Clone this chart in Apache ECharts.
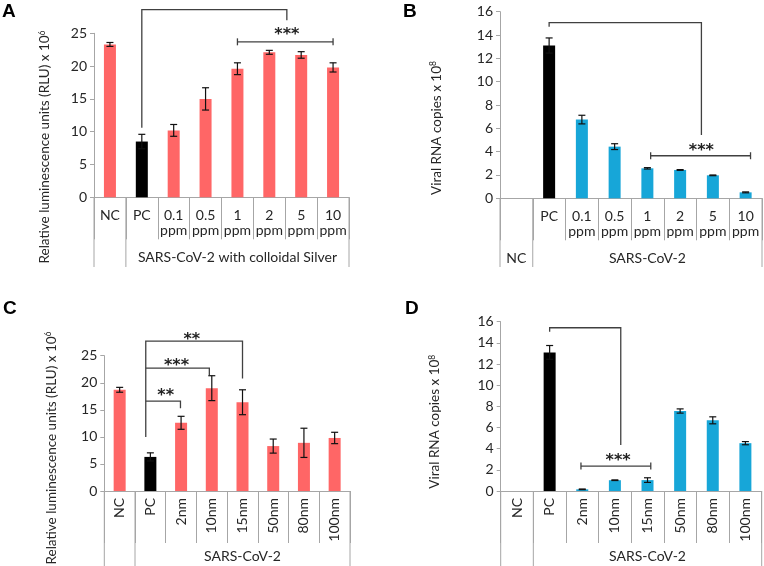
<!DOCTYPE html>
<html>
<head>
<meta charset="utf-8">
<script src="https://cdn.jsdelivr.net/npm/echarts@6/dist/echarts.min.js"></script>
<style>html,body{margin:0;padding:0;background:#fff}#chart{width:764px;height:566px}</style>
</head>
<body>
<div id="chart"></div>
<script>
// categories
const catsPpm = ['NC', 'PC', '0.1 ppm', '0.5 ppm', '1 ppm', '2 ppm', '5 ppm', '10 ppm'];
const catsNm = ['NC', 'PC', '2nm', '10nm', '15nm', '50nm', '80nm', '100nm'];

// A: RLU x 10^6, colloidal silver
const rluA = [23.3, 8.5, 10.2, 15.0, 19.6, 22.1, 21.7, 19.8];
const rluAErr = [0.3, 1.1, 0.9, 1.7, 0.9, 0.3, 0.5, 0.7];
// B: viral RNA copies x 10^8, colloidal silver
const rnaB = [0, 13.1, 6.75, 4.43, 2.57, 2.43, 1.97, 0.51];
const rnaBErr = [0, 0.65, 0.37, 0.25, 0.06, 0.03, 0.03, 0.04];
// C: RLU x 10^6, particle size
const rluC = [18.7, 6.3, 12.6, 19.0, 16.4, 8.3, 8.9, 9.8];
const rluCErr = [0.45, 0.75, 1.2, 2.3, 2.3, 1.3, 2.7, 1.05];
// D: viral RNA copies x 10^8, particle size
const rnaD = [0, 13.1, 0.16, 1.02, 1.03, 7.56, 6.68, 4.52];
const rnaDErr = [0, 0.65, 0.03, 0.03, 0.22, 0.2, 0.33, 0.15];

const FONT = 'Lato';
const AXIS_GRAY = '#A6A6A6';
const TXT = '#262626';
const RED = '#FF6666';
const BLUE = '#17A6D8';

const panels = [
    {
        letter: 'A', letterPos: [2, 12],
        grid: { left: 94, top: 33.3, width: 255, height: 164 },
        cats: catsPpm, vals: rluA, errs: rluAErr, color: RED, max: 25, step: 5,
        title: 'Relative luminescence units (RLU) x 10{sup|6}', titlePos: [45, 147],
        rotate: 0, margin: 11, tickLen: 42, sepBottom: 267, rowY: 257.5,
        fmt: v => v.replace(' ', '\n'),
        groups: [{ from: 1, to: 8, text: 'SARS-CoV-2 with colloidal Silver' }],
        brackets: [{ x1: 1, x2: 5.55, top: 28.6, y1: 10.6, y2: 27.0 }],
        ranges: [{ x1: 4, x2: 7, y: 23.7 }],
        stars: [{ x: 5.55, y: 24.7, text: '***' }]
    },
    {
        letter: 'B', letterPos: [403, 12],
        grid: { left: 500, top: 11.7, width: 262, height: 186.6 },
        cats: catsPpm, vals: rnaB, errs: rnaBErr, color: BLUE, max: 16, step: 2,
        title: 'Viral RNA copies x 10{sup|8}', titlePos: [436.7, 128],
        rotate: 0, margin: 11, tickLen: 42, sepBottom: 267, rowY: 258,
        fmt: v => v === 'NC' ? '' : v.replace(' ', '\n'),
        groups: [{ from: 0, to: 1, text: 'NC' }, { from: 1, to: 8, text: 'SARS-CoV-2' }],
        brackets: [{ x1: 1, x2: 5.65, top: 15.06, y1: 14.7, y2: 5.43 }],
        ranges: [{ x1: 4.1, x2: 7.15, y: 3.65 }],
        stars: [{ x: 5.65, y: 4.1, text: '***' }]
    },
    {
        letter: 'C', letterPos: [3, 309],
        grid: { left: 104.3, top: 355.7, width: 245.7, height: 135.3 },
        cats: catsNm, vals: rluC, errs: rluCErr, color: RED, max: 25, step: 5,
        title: 'Relative luminescence units (RLU) x 10{sup|6}', titlePos: [51.7, 448],
        rotate: 90, margin: 7, tickLen: 52, sepBottom: 566, rowY: 556.7,
        fmt: v => v,
        groups: [{ from: 1, to: 8, text: 'SARS-CoV-2' }],
        brackets: [
            { x1: 0.85, x2: 4, top: 27.7, y1: 10.0, y2: 20.8 },
            { x1: 0.85, x2: 2.92, top: 22.7, y1: 22.7, y2: 21.4 },
            { x1: 0.85, x2: 1.98, top: 16.6, y1: 16.6, y2: 15.3 }
        ],
        ranges: [],
        stars: [
            { x: 2.35, y: 28.0, text: '**' },
            { x: 1.85, y: 23.2, text: '***' },
            { x: 1.5, y: 17.6, text: '**' }
        ]
    },
    {
        letter: 'D', letterPos: [405, 309],
        grid: { left: 500.7, top: 321.7, width: 261, height: 169.3 },
        cats: catsNm, vals: rnaD, errs: rnaDErr, color: BLUE, max: 16, step: 2,
        title: 'Viral RNA copies x 10{sup|8}', titlePos: [435, 421.7],
        rotate: 90, margin: 7, tickLen: 52, sepBottom: 566, rowY: 556.7,
        fmt: v => v,
        groups: [{ from: 1, to: 8, text: 'SARS-CoV-2' }],
        brackets: [{ x1: 1, x2: 3.18, top: 15.43, y1: 15.06, y2: 4.35 }],
        ranges: [{ x1: 1.96, x2: 4.1, y: 2.36 }],
        stars: [{ x: 3.1, y: 2.85, text: '***' }]
    }
];

function errorSeries(i, vals, errs) {
    return {
        type: 'custom',
        xAxisIndex: i,
        yAxisIndex: i,
        z: 5,
        silent: true,
        data: vals.map((v, k) => [k, v, errs[k]]).filter(d => d[2] > 0),
        renderItem: function (params, api) {
            const x = api.value(0), v = api.value(1), e = api.value(2);
            const hi = api.coord([x, v + e]);
            const lo = api.coord([x, v - e]);
            const w = 3.5;
            const st = { stroke: '#111', lineWidth: 1.2 };
            return {
                type: 'group',
                children: [
                    { type: 'line', shape: { x1: hi[0], y1: hi[1], x2: lo[0], y2: lo[1] }, style: st },
                    { type: 'line', shape: { x1: hi[0] - w, y1: hi[1], x2: hi[0] + w, y2: hi[1] }, style: st },
                    { type: 'line', shape: { x1: lo[0] - w, y1: lo[1], x2: lo[0] + w, y2: lo[1] }, style: st }
                ]
            };
        }
    };
}

const chart = echarts.init(document.getElementById('chart'));

const option = {
    animation: false,
    backgroundColor: '#fff',
    grid: panels.map(p => Object.assign({ containLabel: false }, p.grid)),
    xAxis: panels.map((p, i) => ({
        type: 'category',
        gridIndex: i,
        data: p.cats,
        boundaryGap: true,
        axisLine: { lineStyle: { color: AXIS_GRAY } },
        axisTick: { show: true, interval: 0, alignWithLabel: false, length: p.tickLen, lineStyle: { color: AXIS_GRAY } },
        axisLabel: {
            interval: 0, rotate: p.rotate, margin: p.margin, color: TXT,
            fontFamily: FONT, fontSize: 14, lineHeight: 15, formatter: p.fmt
        }
    })),
    yAxis: panels.map((p, i) => ({
        type: 'value',
        gridIndex: i,
        min: 0,
        max: p.max,
        interval: p.step,
        splitLine: { show: false },
        axisLine: { show: true, lineStyle: { color: AXIS_GRAY } },
        axisTick: { show: true, length: 4, lineStyle: { color: AXIS_GRAY } },
        axisLabel: { margin: 7, color: TXT, fontFamily: FONT, fontSize: 14 }
    })),
    series: []
};

panels.forEach((p, i) => {
    option.series.push({
        type: 'bar',
        xAxisIndex: i,
        yAxisIndex: i,
        barWidth: 12,
        data: p.vals.map((v, k) => ({ value: v, itemStyle: { color: k === 1 ? '#000' : p.color } }))
    });
    option.series.push(errorSeries(i, p.vals, p.errs));
});

chart.setOption(option);

// annotations: separators, group labels, brackets, titles
const graphics = [];
const lineStyle = { stroke: '#404040', lineWidth: 1.3, fill: null };

panels.forEach((p, i) => {
    const c0 = chart.convertToPixel({ xAxisIndex: i }, p.cats[0]);
    const c1 = chart.convertToPixel({ xAxisIndex: i }, p.cats[1]);
    const X = k => c0 + k * (c1 - c0);
    const y0 = chart.convertToPixel({ yAxisIndex: i }, 0);
    const yM = chart.convertToPixel({ yAxisIndex: i }, p.max);
    const Y = v => y0 + (yM - y0) * v / p.max;

    [0, 1, 8].forEach(b => {
        graphics.push({
            type: 'line',
            shape: { x1: X(b - 0.5), y1: y0, x2: X(b - 0.5), y2: p.sepBottom },
            style: { stroke: AXIS_GRAY, lineWidth: 1 }
        });
    });

    p.groups.forEach(gr => {
        graphics.push({
            type: 'text',
            x: X((gr.from + gr.to) / 2 - 0.5),
            y: p.rowY,
            style: { text: gr.text, fill: TXT, font: '14px ' + FONT, align: 'center', verticalAlign: 'middle' }
        });
    });

    p.brackets.forEach(b => {
        graphics.push({
            type: 'polyline',
            shape: { points: [[X(b.x1), Y(b.y1)], [X(b.x1), Y(b.top)], [X(b.x2), Y(b.top)], [X(b.x2), Y(b.y2)]] },
            style: lineStyle
        });
    });

    p.ranges.forEach(r => {
        const yy = Y(r.y);
        graphics.push({ type: 'line', shape: { x1: X(r.x1), y1: yy, x2: X(r.x2), y2: yy }, style: lineStyle });
        graphics.push({ type: 'line', shape: { x1: X(r.x1), y1: yy - 3.5, x2: X(r.x1), y2: yy + 3.5 }, style: lineStyle });
        graphics.push({ type: 'line', shape: { x1: X(r.x2), y1: yy - 3.5, x2: X(r.x2), y2: yy + 3.5 }, style: lineStyle });
    });

    p.stars.forEach(s => {
        graphics.push({
            type: 'text',
            x: X(s.x),
            y: Y(s.y),
            style: { text: s.text, fill: '#222', font: 'bold 16px "DejaVu Sans"', align: 'center', verticalAlign: 'middle' }
        });
    });

    graphics.push({
        type: 'text',
        x: p.titlePos[0],
        y: p.titlePos[1],
        rotation: Math.PI / 2,
        style: {
            text: p.title,
            fill: TXT,
            font: '13.5px ' + FONT,
            align: 'center',
            verticalAlign: 'middle',
            rich: { sup: { fontSize: 8.5, fontFamily: FONT, verticalAlign: 'top', padding: [0, 0, 6, 0] } }
        }
    });

    graphics.push({
        type: 'text',
        x: p.letterPos[0],
        y: p.letterPos[1],
        style: { text: p.letter, fill: '#000', font: 'bold 19px "Liberation Sans"', align: 'left', verticalAlign: 'middle' }
    });
});

chart.setOption({ graphic: graphics });
</script>
</body>
</html>
